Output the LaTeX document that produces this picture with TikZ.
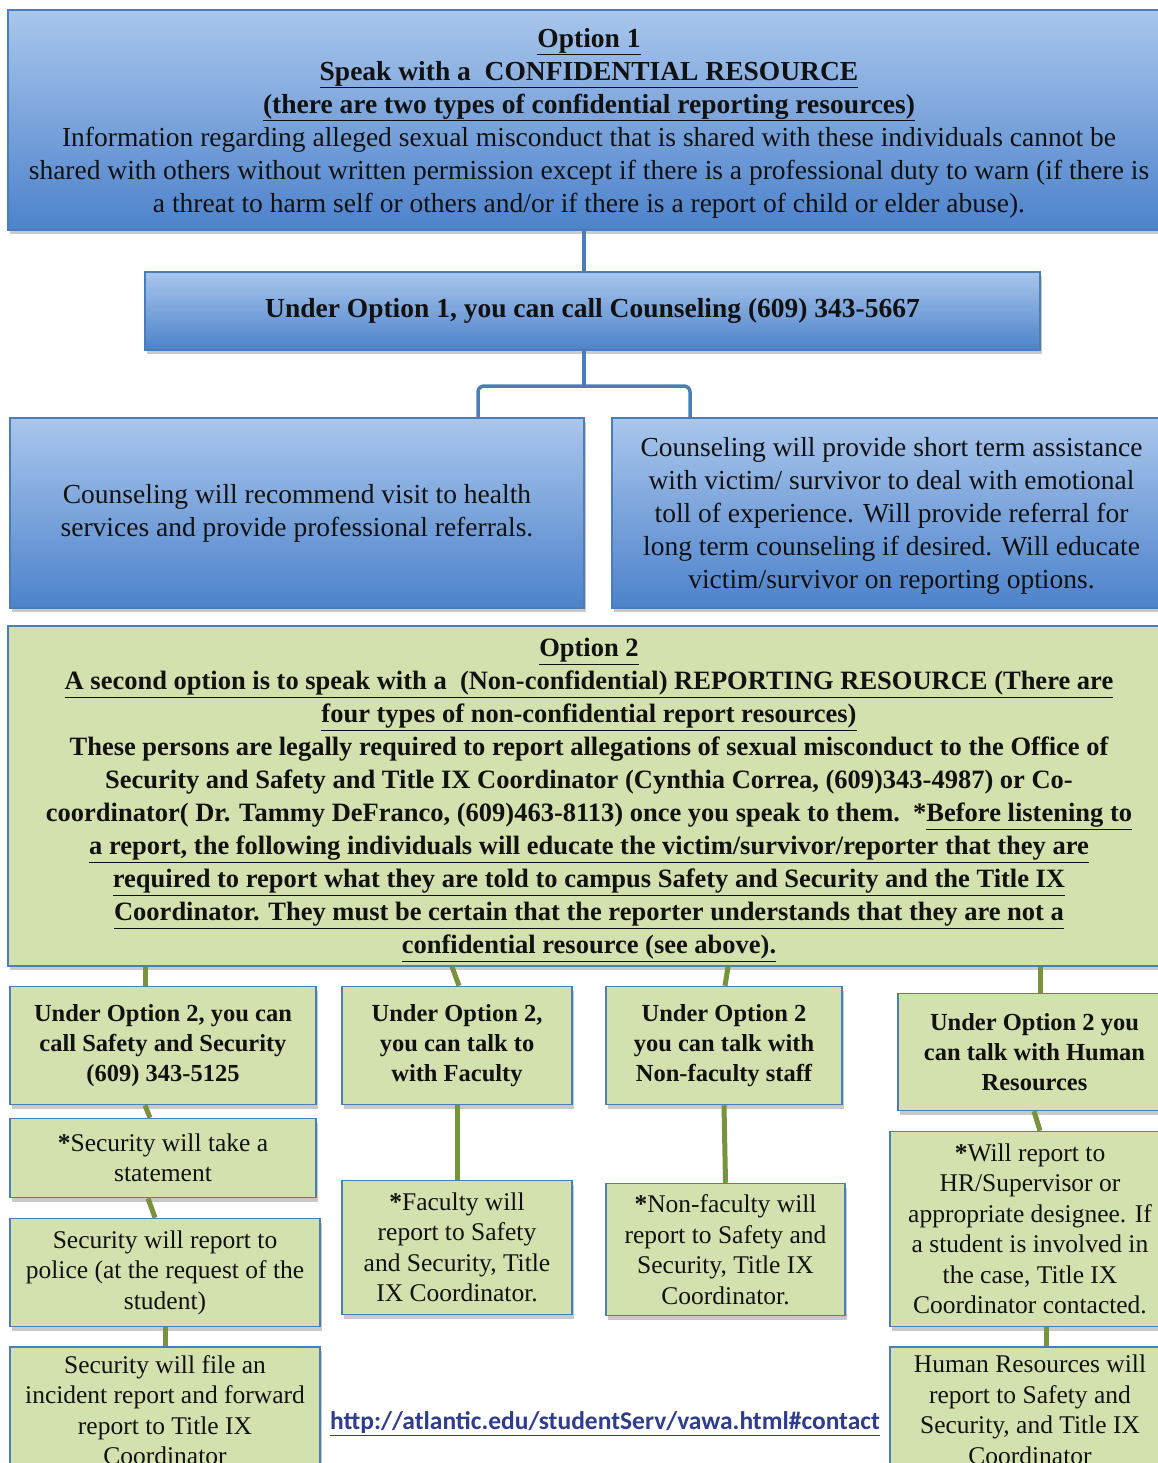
\documentclass[tikz,border=0pt]{standalone}
\usepackage{fontspec}
\setmainfont{Liberation Serif}
\newfontfamily\linkfont{Carlito}
\usetikzlibrary{shadows,calc}
\definecolor{bordb}{HTML}{4A7EBB}
\definecolor{bluetop}{HTML}{A9C6EC}
\definecolor{bluebot}{HTML}{4D82CB}
\definecolor{greenfill}{HTML}{D3E1AE}
\definecolor{olivec}{HTML}{77933C}
\definecolor{txt}{HTML}{111111}
\definecolor{linkc}{HTML}{2F3D8F}
\tikzset{
  shad/.style={drop shadow={opacity=0.35,shadow xshift=2pt,shadow yshift=-4pt,fill=black!60}},
  bluebox/.style={draw=bordb,line width=1.3pt,top color=bluetop,bottom color=bluebot,shad,
    inner sep=0pt,align=center,text=txt},
  greenbox/.style={draw=bordb,line width=1.5pt,fill=greenfill,shad,
    inner sep=0pt,align=center,text=txt},
  plaintxt/.style={inner sep=0pt,align=center,text=txt},
  bigtxt/.style={font=\fontsize{27.5}{33}\selectfont},
  bigbtxt/.style={font=\fontsize{27.5}{33}\selectfont\bfseries},
  optbtxt/.style={font=\fontsize{26.5}{33}\selectfont\bfseries},
  rowtxt/.style={font=\fontsize{24.5}{30}\selectfont\bfseries},
  lowtxt/.style={font=\fontsize{25.5}{30.5}\selectfont},
  bconn/.style={draw=bordb,line width=3.5pt},
  gconn/.style={draw=olivec,line width=5pt}
}
\begin{document}
\begin{tikzpicture}[x=1pt,y=1pt]
\path[use as bounding box,fill=white] (0,0) rectangle (1158,-1463);
\clip (0,0) rectangle (1158,-1463);

% Option 1
\node[bluebox,minimum width=1162pt,minimum height=220pt] (top) at (589,-120) {};
\node[plaintxt,bigtxt] (toptext) at ([yshift=-3pt]top.center)
{\textbf{\underline{Option 1}}\\
\textbf{\underline{Speak with a\ \ CONFIDENTIAL RESOURCE}}\\
\textbf{\underline{(there are two types of confidential reporting resources)}}\\
Information regarding alleged sexual misconduct that is shared with these individuals cannot be\\
shared with others without written permission except if there is a professional duty to warn (if there is\\
a threat to harm self or others and/or if there is a report of child or elder abuse).};

\node[bluebox,bigbtxt,minimum width=895pt,minimum height=78pt] (box2) at (592.5,-311)
{Under Option 1, you can call Counseling (609) 343-5667};

\node[bluebox,bigtxt,minimum width=574pt,minimum height=190pt] (box3) at (297,-513)
{Counseling will recommend visit to health\\
services and provide professional referrals.};

\node[bluebox,minimum width=559pt,minimum height=190pt] (box4) at (891.5,-513) {};
\node[plaintxt,bigtxt] (box4text) at ([yshift=-3pt]box4.center)
{Counseling will provide short term assistance\\
with victim/ survivor to deal with emotional\\
toll of experience. Will provide referral for\\
long term counseling if desired. Will educate\\
victim/survivor on reporting options.};

% Option 2
\node[greenbox,minimum width=1162pt,minimum height=340pt] (opt2) at (589,-796) {};
\node[plaintxt,optbtxt] (opt2text) at ([yshift=-4pt]opt2.center)
{\underline{Option 2}\\
\underline{A second option is to speak with a\ \ (Non-confidential) REPORTING RESOURCE (There are}\\
\underline{four types of non-confidential report resources)}\\
These persons are legally required to report allegations of sexual misconduct to the Office of\\
Security and Safety and Title IX Coordinator (Cynthia Correa, (609)343-4987) or Co-\\
coordinator( Dr. Tammy DeFranco, (609)463-8113) once you speak to them.\ \ *\underline{Before listening to}\\
\underline{a report, the following individuals will educate the victim/survivor/reporter that they are}\\
\underline{required to report what they are told to campus Safety and Security and the Title IX}\\
\underline{Coordinator. They must be certain that the reporter understands that they are not a}\\
\underline{confidential resource (see above).}};

% row boxes
\node[greenbox,rowtxt,minimum width=306pt,minimum height=118pt] (A) at (163,-1045.5)
{Under Option 2, you can\\ call Safety and Security\\ (609) 343-5125};
\node[greenbox,rowtxt,minimum width=230pt,minimum height=118pt] (B) at (457,-1045.5)
{Under Option 2,\\ you can talk to\\ with Faculty};
\node[greenbox,rowtxt,minimum width=236pt,minimum height=118pt] (C) at (724,-1045.5)
{Under Option 2\\ you can talk with\\ Non-faculty staff};
\node[greenbox,rowtxt,minimum width=273pt,minimum height=117pt] (D) at (1034.5,-1052)
{Under Option 2 you\\ can talk with Human\\ Resources};

% lower boxes
\node[greenbox,lowtxt,minimum width=306pt,minimum height=79pt] (A1) at (163,-1158)
{\textbf{*}Security will take a\\ statement};
\node[greenbox,lowtxt,minimum width=310pt,minimum height=108pt] (A2) at (165,-1272.5)
{Security will report to\\ police (at the request of the\\ student)};
\node[greenbox,lowtxt,minimum width=310pt,minimum height=126pt] (A3) at (165,-1410)
{Security will file an\\ incident report and forward\\ report to Title IX\\ Coordinator};
\node[greenbox,lowtxt,minimum width=230pt,minimum height=134pt] (B1) at (457,-1247.5)
{\textbf{*}Faculty will\\ report to Safety\\ and Security, Title\\ IX Coordinator.};
\node[greenbox,lowtxt,minimum width=239pt,minimum height=132pt] (C1) at (725.5,-1249.5)
{\textbf{*}Non-faculty will\\ report to Safety and\\ Security, Title IX\\ Coordinator.};
\node[greenbox,lowtxt,minimum width=280pt,minimum height=195pt] (D1) at (1030,-1229)
{\textbf{*}Will report to\\ HR/Supervisor or\\ appropriate designee. If\\ a student is involved in\\ the case, Title IX\\ Coordinator contacted.};
\node[greenbox,lowtxt,minimum width=280pt,minimum height=126pt] (D2) at (1030,-1410)
{Human Resources will\\ report to Safety and\\ Security, and Title IX\\ Coordinator};

\node[text=linkc,font=\linkfont\fontsize{25.5}{28}\selectfont\bfseries,inner sep=0pt] (link) at (605,-1424)
{\underline{http://atlantic.edu/studentServ/vawa.html\#contact}};

% blue connectors
\draw[bconn] ([xshift=-5pt]top.south) -- ([xshift=-5pt]top.south |- box2.north);
\coordinate (bl) at (478,-386);
\coordinate (br) at (690,-386);
\draw[bconn] ([xshift=-8.5pt]box2.south) -- ([xshift=-8.5pt]box2.south |- bl);
\draw[bconn,rounded corners=6pt] (bl |- box3.north) -- (bl) -- (br) -- (br |- box4.north);

% green connectors
\draw[gconn] ([xshift=-18pt]A.north |- opt2.south) -- ([xshift=-18pt]A.north);
\draw[gconn] ([xshift=-5pt]B.north |- opt2.south) -- ([xshift=2pt]B.north);
\draw[gconn] ([xshift=4pt]C.north |- opt2.south) -- ([xshift=1pt]C.north);
\draw[gconn] ([xshift=5.5pt]D.north |- opt2.south) -- ([xshift=5.5pt]D.north);
\draw[gconn] ([xshift=-18pt]A.south) -- ([xshift=-13pt]A1.north);
\draw[gconn] ([xshift=-15pt]A1.south) -- ([xshift=-10pt]A2.north);
\draw[gconn] (A2.south) -- (A3.north);
\draw[gconn] (B.south) -- (B1.north);
\draw[gconn] (C.south) -- (C1.north);
\draw[gconn] ([xshift=-0.5pt]D.south) -- ([xshift=10pt]D1.north);
\draw[gconn] ([xshift=16pt]D1.south) -- ([xshift=16pt]D2.north);
\end{tikzpicture}
\end{document}
